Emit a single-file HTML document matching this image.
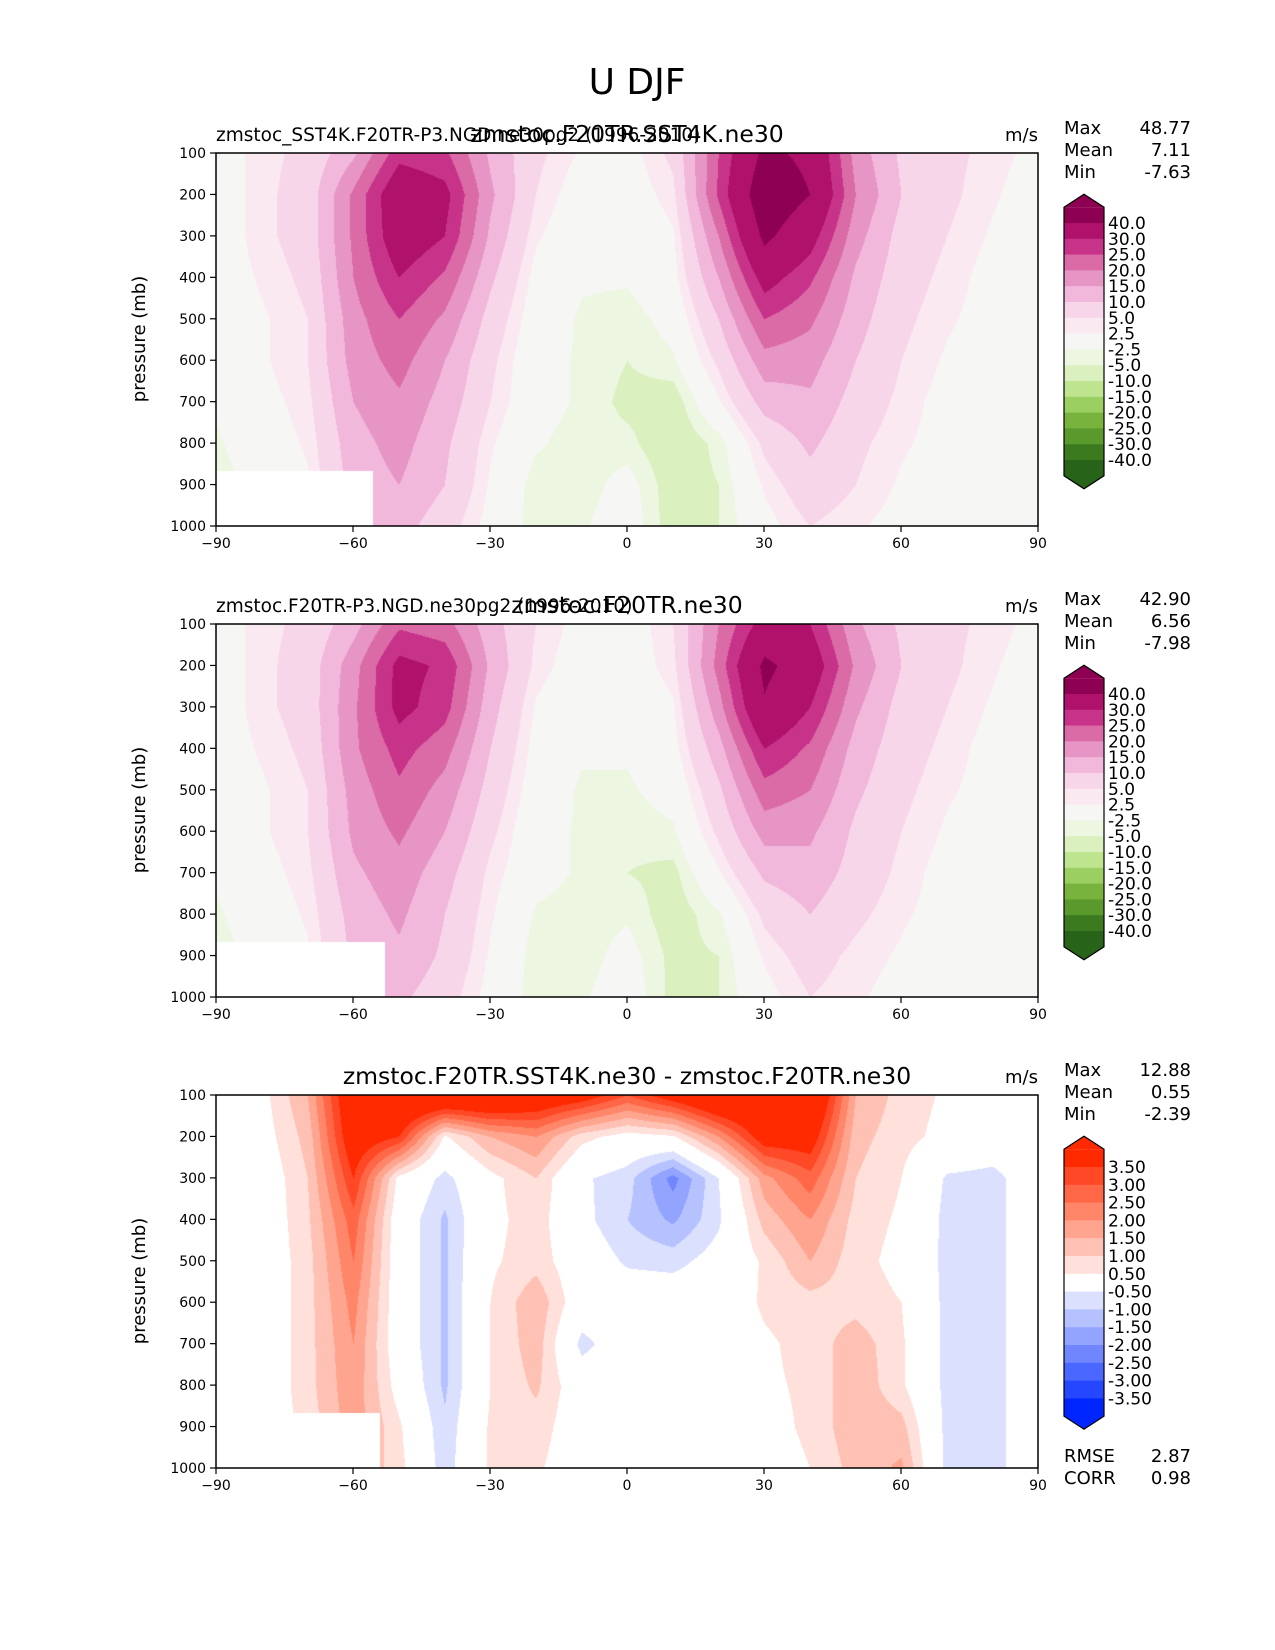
<!DOCTYPE html>
<html><head><meta charset="utf-8">
<style>
body{margin:0;background:#fff;}
#root{position:relative;width:1275px;height:1650px;background:#fff;font-family:"DejaVu Sans","Liberation Sans",sans-serif;color:#000;overflow:hidden;}
canvas{position:absolute;}
svg{position:absolute;left:0;top:0;}
</style></head>
<body>
<div id="root">
<canvas id="c1" width="822" height="373" style="left:216px;top:153px"></canvas>
<canvas id="c2" width="822" height="373" style="left:216px;top:624px"></canvas>
<canvas id="c3" width="822" height="373" style="left:216px;top:1095px"></canvas>
<svg id="ov" width="1275" height="1650"></svg>
</div>
<script>
const lats=[-90,-80,-70,-60,-50,-40,-30,-20,-10,0,10,20,30,40,50,60,70,80,90];
const pres=[100,200,300,400,500,600,700,800,900,1000];
const u1=[
[0,4,6,14,28,26,14,6,2,1,6,25,42,38,18,9,6,4,1],
[0,4,7,21,36,32,16,5,0,0,4,26,47,40,20,10,6,3,0],
[0,4,7,21,35,30,14,3,-1,-1,2,20,42,33,17,8,5,2,0],
[0,3,6,20,30,24,11,1,-2,-2,1,15,33,26,14,7,4,1,0],
[0,2,5,18,25,19,8,0,-3,-4,-1,10,25,21,12,6,3,1,0],
[-1,2,5,17,22,15,6,-1,-3,-5,-3,6,18,17,10,5,2,0,0],
[-2,1,4,15,19,13,5,-1,-3,-6,-7,2,12,14,8,4,1,0,0],
[-3,0,3,13,17,11,3,-2,-4,-4,-8,-4,6,11,6,3,1,0,0],
[-4,-1,2,12,15,10,2,-4,-4,-1,-7,-5,3,8,5,2,0,0,0],
[-4,-1,1,10,12,7,1,-4,-3,0,-7,-5,1,5,3,1,0,0,0]];
const u2=[
[0,4,6,13,24,22,12,5,1,0,5,20,33,30,16,9,6,4,1],
[0,4,7,18,32,29,14,4,0,0,4,22,42,35,19,10,6,3,0],
[0,4,7,19,32,27,12,2,-1,-1,2,18,39,30,16,8,5,2,0],
[0,3,6,19,27,22,10,1,-2,-2,1,13,30,24,13,7,4,1,0],
[0,2,5,17,24,18,8,0,-3,-3,-1,9,23,20,11,6,3,1,0],
[-1,2,5,16,21,15,6,-1,-3,-4,-3,6,17,16,9,5,2,0,0],
[-2,1,4,14,18,12,4,-1,-3,-5,-6,2,11,13,8,4,1,0,0],
[-3,0,3,12,16,10,3,-3,-4,-3,-7,-3,6,10,6,3,1,0,0],
[-4,-1,2,11,14,9,2,-4,-4,-1,-6,-5,3,7,4,2,0,0,0],
[-4,-1,1,9,11,7,1,-4,-3,0,-6,-5,1,5,3,1,0,0,0]];
const du=[
[0,0.3,1.5,4.5,5,5,5,4.5,4,3,4,5,5,5,1.5,0.8,0.4,0,0],
[0,0.2,1.2,4.2,3.5,0.4,1.5,2,0.7,0.2,0.4,2,4,4,1.2,0.7,0.3,0,0],
[0,0,1,3.5,0.3,-0.7,0.3,1,-0.4,-0.8,-2.2,-0.5,1.8,2.8,1,0.5,-0.6,-0.7,0],
[0,0,0.9,2.8,0,-1.1,0.3,0.8,-0.3,-1,-1.6,-0.6,1.2,2,0.8,0.4,-0.7,-0.7,0],
[0,0,0.8,2.5,0,-1.1,0.4,0.8,0,-0.6,-0.7,-0.2,0.6,1.5,0.7,0.3,-0.7,-0.7,0],
[0,0,0.8,2.2,0,-1.1,0.5,1.4,0,0,0,0,0.6,0.8,0.8,0.5,-0.7,-0.7,0],
[0,0,0.8,2,0,-1.1,0.5,1.3,-0.7,0,0,0,0.4,0.7,1.3,0.6,-0.7,-0.7,0],
[0,0,0.8,1.9,0.2,-1.1,0.5,1.1,0,0,0,0,0.4,0.6,1.4,0.6,-0.7,-0.7,0],
[0,0,0.7,1.8,0.6,-0.9,0.6,0.8,0,0,0,0,0.3,0.6,1.4,1.2,-0.7,-0.7,0],
[0,0,0.6,1.6,0.7,-0.8,0.6,0.6,0,0,0,0,0.2,0.5,1.2,1.6,-0.7,-0.7,0]];
const levels1=[-40,-30,-25,-20,-15,-10,-5,-2.5,2.5,5,10,15,20,25,30,40];
const colors1=['#276419','#3c7a1f','#5a9a2c','#78b33d','#9bcf62','#bfe48f','#daf0bf','#ecf6e1','#f6f6f5','#fbe9f2','#f8d6ea','#f2b8dc','#e695c4','#db6ba6','#c8338a','#b0116b','#8e0152'];
const labels1=['40.0','30.0','25.0','20.0','15.0','10.0','5.0','2.5','-2.5','-5.0','-10.0','-15.0','-20.0','-25.0','-30.0','-40.0'];
const levels2=[-3.5,-3,-2.5,-2,-1.5,-1,-0.5,0.5,1,1.5,2,2.5,3,3.5];
const colors2=['#0026ff','#2447ff','#4a68ff','#6f86ff','#92a4ff','#b6c2ff','#dbe0ff','#ffffff','#ffe0da','#ffc1b3','#ffa48e','#ff8669','#ff6746','#ff4826','#ff2a00'];
const labels2=['3.50','3.00','2.50','2.00','1.50','1.00','0.50','-0.50','-1.00','-1.50','-2.00','-2.50','-3.00','-3.50'];
const stats=[['48.77','7.11','-7.63'],['42.90','6.56','-7.98'],['12.88','0.55','-2.39']];
const xTicks=[-90,-60,-30,0,30,60,90];
const xTickLabels=['\u221290','\u221260','\u221230','0','30','60','90'];
const yTicks=[100,200,300,400,500,600,700,800,900,1000];

const AX={x0:216,w:822,h:373};
const panelTops=[153,624,1095];
function xs(lat){return (lat+90)/180*AX.w;}
function ys(p){return (p-100)/900*AX.h;}
function hex(c){return [parseInt(c.substr(1,2),16),parseInt(c.substr(3,2),16),parseInt(c.substr(5,2),16)];}
function sample(g,lat,p){
  let fi=(lat+90)/10, fj=(p-100)/100;
  let i=Math.min(17,Math.max(0,Math.floor(fi))), j=Math.min(8,Math.max(0,Math.floor(fj)));
  let a=fi-i,b=fj-j;
  return g[j][i]*(1-a)*(1-b)+g[j][i+1]*a*(1-b)+g[j+1][i]*(1-a)*b+g[j+1][i+1]*a*b;
}
function bin(v,lv){let k=0;while(k<lv.length&&v>=lv[k])k++;return k;}
function drawPanel(id,g,lv,cols,maskLat){
  const cv=document.getElementById(id),ctx=cv.getContext('2d');
  const img=ctx.createImageData(AX.w,AX.h);const rgb=cols.map(hex);
  for(let y=0;y<AX.h;y++){const p=100+y/AX.h*900;
    for(let x=0;x<AX.w;x++){const lat=-90+x/AX.w*180;let c;
      if(lat<maskLat&&p>866)c=[255,255,255];else c=rgb[bin(sample(g,lat,p),lv)];
      const o=(y*AX.w+x)*4;img.data[o]=c[0];img.data[o+1]=c[1];img.data[o+2]=c[2];img.data[o+3]=255;}}
  ctx.putImageData(img,0,0);
}
drawPanel('c1',u1,levels1,colors1,-55.7);
drawPanel('c2',u2,levels1,colors1,-53.2);
drawPanel('c3',du,levels2,colors2,-54.2);

const NS='http://www.w3.org/2000/svg';const ov=document.getElementById('ov');
function el(tag,attrs,txt){const e=document.createElementNS(NS,tag);for(const k in attrs)e.setAttribute(k,attrs[k]);if(txt!==undefined)e.textContent=txt;ov.appendChild(e);return e;}
let t=el('text',{x:637,y:94,'font-size':36,'text-anchor':'middle'},'U DJF');


const titles=[['zmstoc_SST4K.F20TR-P3.NGD.ne30pg2 (1996-2010)','zmstoc.F20TR.SST4K.ne30'],['zmstoc.F20TR-P3.NGD.ne30pg2 (1996-2010)','zmstoc.F20TR.ne30'],['','zmstoc.F20TR.SST4K.ne30 - zmstoc.F20TR.ne30']];
panelTops.forEach((top,pi)=>{
  const r=el('rect',{x:216,y:top,width:822,height:373,fill:'none',stroke:'#000','stroke-width':1.5});
  
  
  xTicks.forEach((v,i)=>{const x=216+xs(v);
    el('line',{x1:x,x2:x,y1:top+373,y2:top+379,stroke:'#000','stroke-width':1.2});
    const l=el('text',{x:x,y:top+395,'font-size':14,'text-anchor':'middle'},xTickLabels[i]);
    
    });
  yTicks.forEach(v=>{const y=top+ys(v);
    el('line',{x1:210,x2:216,y1:y,y2:y,stroke:'#000','stroke-width':1.2});
    const l=el('text',{x:206,y:y+5,'font-size':14,'text-anchor':'end'},String(v));
    
    });
  const yl=el('text',{x:0,y:0,'font-size':18,'text-anchor':'middle',transform:`translate(145,${top+186}) rotate(-90)`},'pressure (mb)');
  
  
  if(titles[pi][0]){const a=el('text',{x:216,y:top-12,'font-size':18.5},titles[pi][0]);
    
    }
  const c=el('text',{x:627,y:top-11,'font-size':23.5,'text-anchor':'middle'},titles[pi][1]);
  
  
  const u=el('text',{x:1038,y:top-12,'font-size':18,'text-anchor':'end'},'m/s');
  
  
  ['Max','Mean','Min'].forEach((n,k)=>{
    const a=el('text',{x:1064,y:top-19+k*22,'font-size':18},n);
    
    
    const b=el('text',{x:1191,y:top-19+k*22,'font-size':18,'text-anchor':'end'},stats[pi][k]);
    
    });
  const diff=pi===2;const cols=diff?colors2:colors1;const labs=diff?labels2:labels1;
  const b0=diff?top+72:top+70;const step=diff?17.8:15.8;const n=labs.length;
  const x0=1064,x1=1104;const topS=b0-step,botS=b0+(n-1)*step+step;
  const topTip=topS-13,botTip=botS+13;
  const g=el('g',{});
  
  
  el('polygon',{points:`${x0},${topS} ${(x0+x1)/2},${topTip} ${x1},${topS}`,fill:cols[cols.length-1]});
  el('polygon',{points:`${x0},${botS} ${(x0+x1)/2},${botTip} ${x1},${botS}`,fill:cols[0]});
  for(let k=0;k<=n;k++){const y=b0+(k-1)*step;
    el('rect',{x:x0,y:y,width:x1-x0,height:step+0.6,fill:cols[cols.length-1-k]});}
  el('polygon',{points:`${x0},${topS} ${(x0+x1)/2},${topTip} ${x1},${topS} ${x1},${botS} ${(x0+x1)/2},${botTip} ${x0},${botS}`,fill:'none',stroke:'#000','stroke-width':1.2});
  labs.forEach((s,k)=>{const l=el('text',{x:1108,y:b0+k*step+6,'font-size':17},s);
    
    });
});
[['RMSE','2.87',1462],['CORR','0.98',1484]].forEach(r=>{
  const a=el('text',{x:1064,y:r[2],'font-size':18},r[0]);
  
  
  const b=el('text',{x:1191,y:r[2],'font-size':18,'text-anchor':'end'},r[1]);
  
  });
</script>
</body></html>
